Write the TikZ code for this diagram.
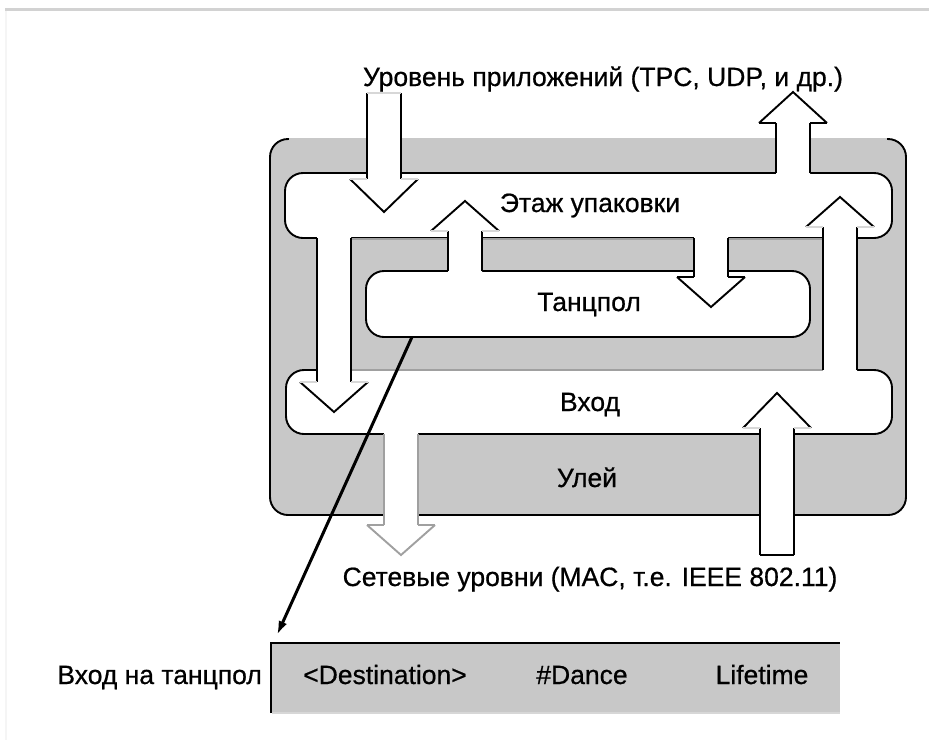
\documentclass[tikz,border=0pt]{standalone}
\usepackage{fontspec}
\setmainfont{Liberation Sans}[FakeBold=0.6]
\usetikzlibrary{arrows.meta}
\definecolor{panel}{RGB}{200,200,200}
\definecolor{softedge}{RGB}{160,160,160}
\definecolor{paleedge}{RGB}{215,215,215}
\definecolor{framegray}{RGB}{210,210,210}
\tikzset{
  outline/.style={line width=1.9pt, line join=miter},
  band/.style={fill=white, draw=black, line width=1.9pt, rounded corners=18pt},
  label/.style={font=\fontsize{26.5}{31}\selectfont, anchor=base, inner sep=0pt},
  pointer/.style={line width=3pt, -{Latex[length=14pt,width=9pt]}},
}
% block arrow: #1 centre x, #2 fill start y, #3 shaft start y, #4 head base y,
% #5 tip y, #6 outline colour, #7 colour of the head's base ledges
\newcommand\blockarrow[7]{%
  \fill[white] (#1-17,#2) -- (#1-17,#4) -- (#1-34,#4) -- (#1,#5)
               -- (#1+34,#4) -- (#1+17,#4) -- (#1+17,#2) -- cycle;
  \draw[#6,outline] (#1-17,#3) -- (#1-17,#4);
  \draw[#6,outline] (#1+17,#3) -- (#1+17,#4);
  \draw[#6,outline] (#1-34,#4) -- (#1,#5) -- (#1+34,#4);
  \draw[#7,outline] (#1-34,#4) -- (#1-17,#4) (#1+17,#4) -- (#1+34,#4);
}
\begin{document}
\begin{tikzpicture}[x=1pt,y=-1pt]
\useasboundingbox (0,0) rectangle (929,740);
\fill[white] (0,0) rectangle (929,740);

% page frame
\draw[framegray, line width=3pt] (5,9) -- (929,9);
\draw[black!4, line width=2pt] (6,11) -- (6,740);

% outer hive panel
\fill[panel, rounded corners=18pt] (270,139) rectangle (906,515);
\draw[black, line width=1.9pt, rounded corners=18pt] (270,139) rectangle (906,515);
\draw[panel, line width=2.5pt] (289,139) -- (887,139);

% white floors
\draw[band] (285,173) rectangle (892,238);
\draw[band] (286,370) rectangle (892,434);

% inner panel around the dance floor
\draw[fill=panel, draw=softedge, line width=1.5pt] (350,239) rectangle (823,370);
\draw[band] (366,271) rectangle (810,337);

% block arrows
\blockarrow{384}{93}{93}{179}{212}{black}{paleedge}
\draw[paleedge, outline] (367,93) -- (401,93);
\blockarrow{793}{176}{173}{123}{92}{black}{black}
\blockarrow{465}{274}{271}{231}{201}{black}{paleedge}
\blockarrow{711}{235}{238}{277}{307}{black}{black}
\blockarrow{334}{235}{238}{382}{412}{black}{paleedge}
\blockarrow{840}{373}{370}{227}{197}{black}{paleedge}
\blockarrow{401}{431}{434}{525}{555}{softedge}{softedge}
\blockarrow{777}{555}{555}{428}{393}{black}{paleedge}
\draw[black, outline] (760,555) -- (794,555);

% labels
\node[label] (app)   at (603,86)  {Уровень приложений (TPC, UDP, и др.)};
\node[label] (pack)  at (590,212) {Этаж упаковки};
\node[label] (dance) at (589,311) {Танцпол};
\node[label] (entry) at (590,411) {Вход};
\node[label] (hive)  at (587,487) {Улей};
\node[label] (net)   at (590,586) {Сетевые уровни (MAC, т.е. IEEE 802.11)};

% dance-floor entry record
\fill[panel] (271,643) rectangle (840,713);
\draw[black, line width=1.9pt] (271,713) -- (271,643) -- (840,643);
\draw[paleedge, line width=1.5pt] (272,713) -- (840,713);
\node[label, anchor=base east] (rec)  at (262,684) {Вход на танцпол};
\node[label] (dest) at (385,684) {<Destination>};
\node[label] (hops) at (582,684) {\#Dance};
\node[label] (life) at (762,684) {Lifetime};

% pointer from the dance floor to its entry record
\coordinate (from) at (412,337);
\coordinate (to) at (277,635);
\draw[pointer] (from) -- (to);
\end{tikzpicture}
\end{document}
